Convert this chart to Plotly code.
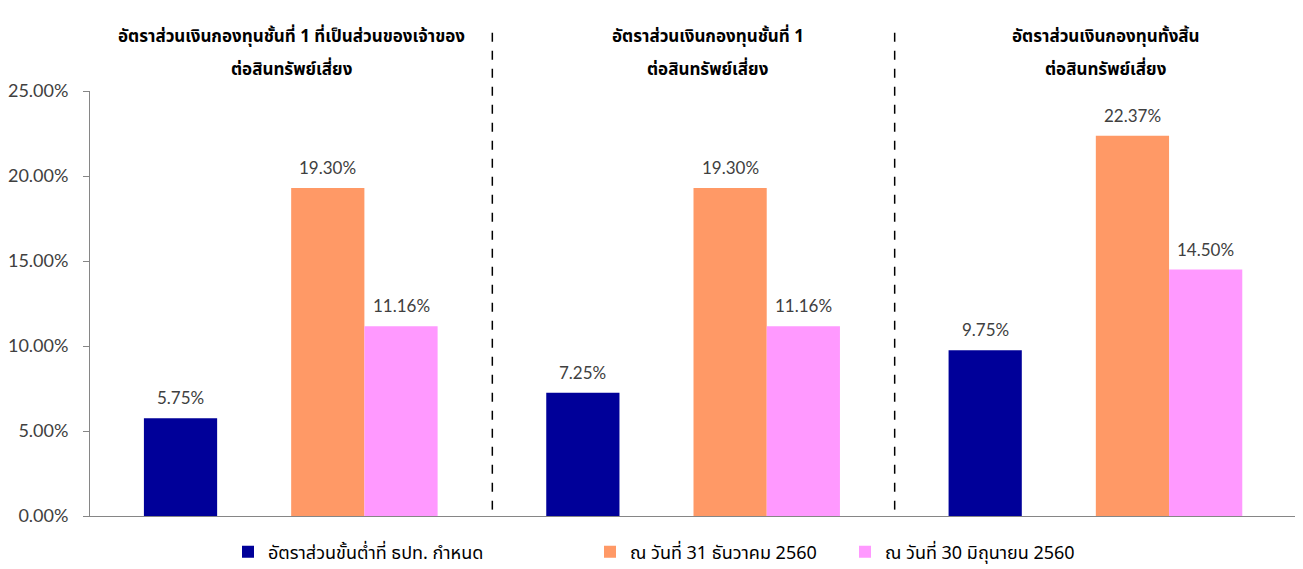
import plotly.graph_objects as go

group_line1 = [
    "อัตราส่วนเงินกองทุนชั้นที่ 1 ที่เป็นส่วนของเจ้าของ",
    "อัตราส่วนเงินกองทุนชั้นที่ 1",
    "อัตราส่วนเงินกองทุนทั้งสิ้น",
]
group_line2 = [
    "ต่อสินทรัพย์เสี่ยง",
    "ต่อสินทรัพย์เสี่ยง",
    "ต่อสินทรัพย์เสี่ยง",
]
series_names = [
    "อัตราส่วนขั้นต่ำที่ ธปท. กำหนด",
    "ณ วันที่ 31 ธันวาคม 2560",
    "ณ วันที่ 30 มิถุนายน 2560",
]
minimum = [0.0575, 0.0725, 0.0975]
dec_2560 = [0.1930, 0.1930, 0.2237]
jun_2560 = [0.1116, 0.1116, 0.1450]

colors = ["#000099", "#FF9966", "#FF99FF"]
offsets = [-0.366, 0.0, 0.182]
W = 0.182
x = [0, 1, 2]

fig = go.Figure()
thai = "Noto Sans Thai, Tahoma, serif"
lab_font = dict(family="Lato, Open Sans, sans-serif", size=17, color="#404040")
legends = ["legend", "legend2", "legend3"]
for i, (name, vals) in enumerate(zip(series_names, [minimum, dec_2560, jun_2560])):
    fig.add_trace(go.Bar(
        x=x, y=vals, name=name, marker=dict(color=colors[i], line=dict(width=0)),
        width=W, offset=offsets[i], legend=legends[i],
    ))
    for xi, v in zip(x, vals):
        fig.add_annotation(x=xi + offsets[i] + W / 2, y=v, xref="x", yref="y",
                           yanchor="bottom", yshift=8, showarrow=False,
                           text=f"{v*100:.2f}%", font=lab_font)

title_shift = [0, 14, 10]
for xi, l1, l2, sh in zip(x, group_line1, group_line2, title_shift):
    fig.add_annotation(x=xi, y=1 + 54 / 425, xref="x", yref="paper", yanchor="middle",
                       xshift=sh, text="<b>" + l1 + "</b>", showarrow=False,
                       font=dict(family=thai, size=17, color="#000000"))
    fig.add_annotation(x=xi, y=1 + 21 / 425, xref="x", yref="paper", yanchor="middle",
                       xshift=sh, text="<b>" + l2 + "</b>", showarrow=False,
                       font=dict(family=thai, size=17, color="#000000"))

for xb in [0.5, 1.5]:
    fig.add_shape(type="line", x0=xb, x1=xb, xref="x", yref="paper",
                  y0=0.015, y1=1 + 61 / 425, line=dict(color="#000000", width=1.5, dash="dash"))

leg_common = dict(orientation="h", yanchor="middle", xanchor="left", y=-36 / 425,
                  font=dict(family=thai, size=18, color="#000000"),
                  bgcolor="rgba(0,0,0,0)", itemwidth=30)
fig.update_layout(
    barmode="overlay",
    width=1295, height=561,
    margin=dict(l=82, r=6, t=83, b=53, autoexpand=False),
    plot_bgcolor="white", paper_bgcolor="white",
    showlegend=True,
    legend=dict(x=138 / 1207, **leg_common),
    legend2=dict(x=500 / 1207, **leg_common),
    legend3=dict(x=755 / 1207, **leg_common),
    xaxis=dict(range=[-0.5, 2.5], showticklabels=False, ticks="", showline=True,
               linecolor="#868686", linewidth=1, showgrid=False, zeroline=False),
    yaxis=dict(range=[0, 0.25], tickformat=".2%", dtick=0.05, showline=True,
               linecolor="#868686", linewidth=1, ticks="outside", ticklen=6,
               tickcolor="#868686", showgrid=False, zeroline=False,
               ticklabelstandoff=11, automargin=False,
               tickfont=dict(family="Lato, Open Sans, sans-serif", size=18, color="#404040")),
)

fig.write_html("out.html")
